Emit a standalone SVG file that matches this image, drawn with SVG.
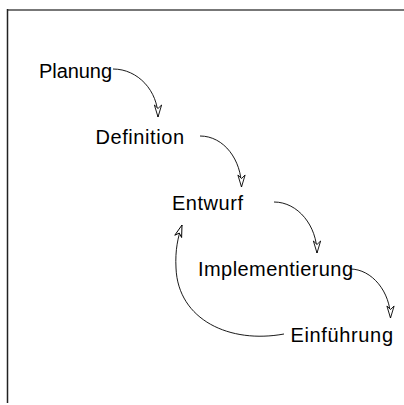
<svg xmlns="http://www.w3.org/2000/svg" width="404" height="405" viewBox="0 0 404 405">
<style>
.t{font-family:"Liberation Sans",Arial,sans-serif;font-size:20px;fill:#000}
.c{fill:none;stroke:#000;stroke-width:0.9;marker-end:url(#ah)}
</style>
<defs>
<marker id="ah" markerUnits="userSpaceOnUse" markerWidth="16" markerHeight="12" viewBox="-14 -6 16 12" refX="0" refY="0" orient="auto">
<path d="M0,0 L-12,-3.6 L-8.5,0 L-12,3.6 Z" fill="#fff" stroke="#000" stroke-width="0.9" stroke-linejoin="miter"/>
</marker>
</defs>
<rect width="404" height="405" fill="#fff"/>
<g id="frame">
<line x1="7" y1="10" x2="404" y2="10" stroke="#777" stroke-width="2"/>
<line x1="7.5" y1="9" x2="7.5" y2="403" stroke="#222" stroke-width="1.5"/>
</g>
<g id="connectors">
<path class="c" d="M113,69 C138,69 158,91 158,117"/>
<path class="c" d="M200,136 C224,136 241.5,160 241.5,187"/>
<path class="c" d="M274,202 C298,202 317,226 317,253"/>
<path class="c" d="M350,269 C372,269 390.5,292 390.5,318"/>
<path class="c" d="M284,334 C230,344 178,320 176,268 C175,250 178,237 182,225"/>
</g>
<g id="planung"><text class="t" x="39" y="78" textLength="73">Planung</text></g>
<g id="definition"><text class="t" x="95.5" y="144" textLength="88.5">Definition</text></g>
<g id="entwurf"><text class="t" x="172" y="210" textLength="71">Entwurf</text></g>
<g id="implementierung"><text class="t" x="198" y="276" textLength="155">Implementierung</text></g>
<g id="einfuehrung"><text class="t" x="290.5" y="342" textLength="102.5">Einführung</text></g>
</svg>
